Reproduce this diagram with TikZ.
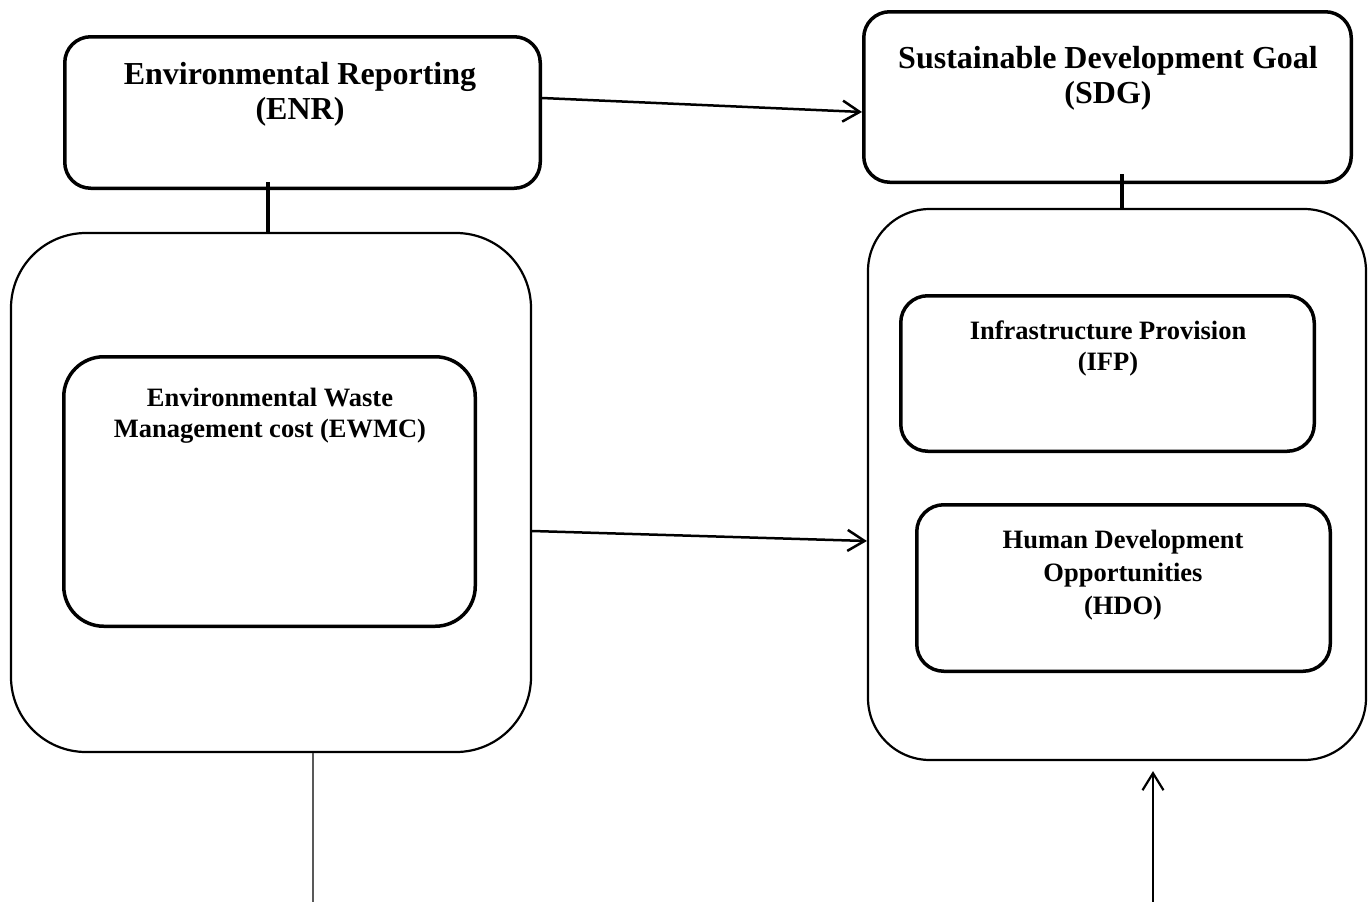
\documentclass[tikz,border=0pt]{standalone}
\usepackage{fontspec}
\setmainfont{Liberation Serif}
\usetikzlibrary{arrows.meta}
\begin{document}
\begin{tikzpicture}[x=1pt,y=-1pt,
  headbox/.style={draw, line width=3.5pt, rounded corners=26pt, inner sep=0pt},
  groupbox/.style={draw, line width=2.2pt, inner sep=0pt},
  itembox/.style={draw, line width=3.5pt, rounded corners=27pt, inner sep=0pt},
  bigtxt/.style={font=\bfseries\fontsize{32}{35}\selectfont, align=center, inner sep=0pt, anchor=north},
  smalltxt/.style={font=\bfseries\fontsize{26.5}{31}\selectfont, align=center, inner sep=0pt, anchor=north},
  link/.style={line width=4pt},
  flow/.style={line width=2.5pt, -{Straight Barb[length=17pt,width=21pt]}},
  thinflow/.style={line width=2.2pt, -{Straight Barb[length=17pt,width=21pt]}}]
\useasboundingbox (0,0) rectangle (1369,902);

% top boxes
\node[headbox, minimum width=475.5pt, minimum height=151.5pt] (enr) at (302.5,112.5) {};
\node[headbox, minimum width=487.5pt, minimum height=170.5pt] (sdg) at (1107.5,97) {};

% group boxes
\node[groupbox, rounded corners=75pt, minimum width=520pt, minimum height=519pt] (lbig) at (271,492.5) {};
\node[groupbox, rounded corners=62pt, minimum width=498pt, minimum height=551pt] (rbig) at (1117,484.5) {};

% inner boxes
\node[itembox, rounded corners=40pt, minimum width=411.5pt, minimum height=269.5pt] (ewmc) at (269.5,491.5) {};
\node[itembox, minimum width=413.5pt, minimum height=155.5pt] (ifp) at (1107.5,373.5) {};
\node[itembox, minimum width=413.5pt, minimum height=166.5pt] (hdo) at (1123.5,588) {};

% labels
\node[bigtxt] (enrT) at (300,62) {Environmental Reporting\\(ENR)};
\node[bigtxt] (sdgT) at (1108,46) {Sustainable Development Goal\\(SDG)};
\node[smalltxt] (ewmcT) at (270,388) {Environmental Waste\\Management cost (EWMC)};
\node[smalltxt] (ifpT) at (1108,321) {Infrastructure Provision\\(IFP)};
\node[smalltxt, font=\bfseries\fontsize{26.5}{33}\selectfont] (hdoT) at (1123,530) {Human Development\\Opportunities\\(HDO)};

% connectors
\draw[link] ([shift={(-34.5pt,8pt)}]enr.south) -- ([xshift=-3pt]lbig.north);
\draw[link] ([shift={(14.5pt,10pt)}]sdg.south) -- ([xshift=5pt]rbig.north);
\draw[flow] ([yshift=14.5pt]enr.east) -- ([yshift=-15pt]sdg.west);
\draw[flow] ([yshift=-38.5pt]lbig.east) -- ([yshift=-56.5pt]rbig.west);

\coordinate (lfoot) at (313,902);
\coordinate (rfoot) at (1153,902);
\draw[line width=2.2pt, black!65] ([xshift=42pt]lbig.south) -- (lfoot);
\draw[thinflow] (rfoot) -- ([shift={(36pt,-10pt)}]rbig.south);
\end{tikzpicture}
\end{document}
